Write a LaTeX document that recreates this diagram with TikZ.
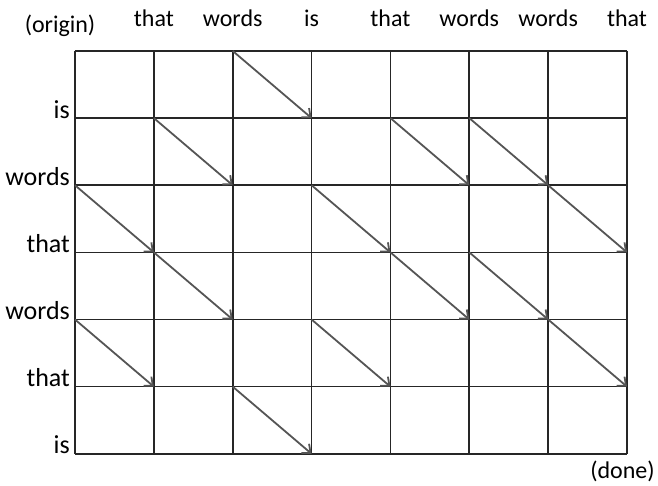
\documentclass[tikz,border=0pt]{standalone}
\usepackage{fontspec}
\setmainfont{Carlito}
\usetikzlibrary{arrows.meta}
\definecolor{gridink}{HTML}{262626}
\definecolor{matchink}{HTML}{555555}
\tikzset{cell/.style={draw=gridink,line width=.8pt},match/.style={-{Straight Barb[length=3.5pt,width=6pt]},draw=matchink,line width=.9pt},word/.style={font=\fontsize{12}{14}\selectfont,inner sep=0pt},rowword/.style={word,font=\fontsize{13}{15}\selectfont}}

\begin{document}
\begin{tikzpicture}[x=1.386cm,y=-1.18cm]
\useasboundingbox (-0.951,-0.759) rectangle (7.393,6.476);
\foreach \i in {0,...,7}{\foreach \j in {0,...,6}{\coordinate (p-\i-\j) at (\i,\j);}}
\foreach \i in {0,...,7}{\draw[cell] (p-\i-0)--(p-\i-6);}
\foreach \j in {0,...,6}{\draw[cell] (p-0-\j)--(p-7-\j);}
\foreach \w [count=\i] in {that,words,is,that,words,words,that}{\node[word,anchor=base] (col-\i) at (\i,-0.37) {\w};}
\foreach \w [count=\j] in {is,words,that,words,that,is}{\node[rowword,anchor=base east] (row-\j) at (-0.06,\j) {\w};}
\node[word,anchor=base] (origin) at (-0.19,-0.27) {(origin)};
\node[word,anchor=base east] (done) at (7.355,6.37) {(done)};
% diagonal moves where the two words agree
\foreach \i/\j in {2/0,1/1,4/1,5/1,0/2,3/2,6/2,1/3,4/3,5/3,0/4,3/4,6/4,2/5}{\pgfmathtruncatemacro\ii{\i+1}\pgfmathtruncatemacro\jj{\j+1}\draw[match] (p-\i-\j)--(p-\ii-\jj);}
\end{tikzpicture}
\end{document}
